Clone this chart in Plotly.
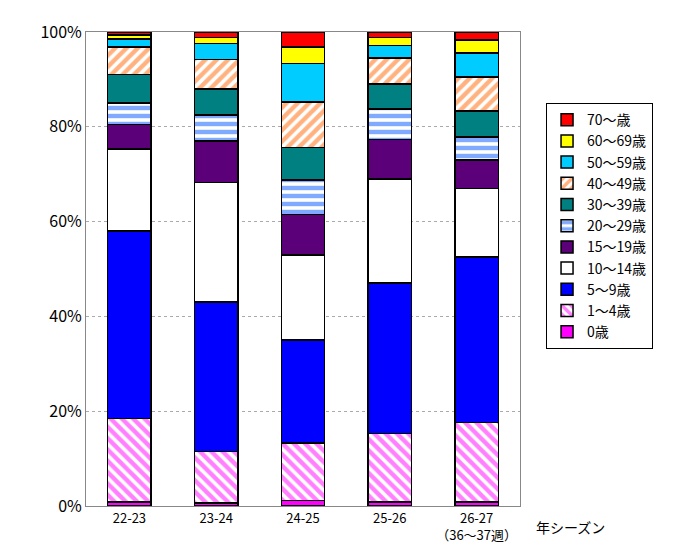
import plotly.graph_objects as go
import numpy as np

seasons = ["22-23", "23-24", "24-25", "25-26", "26-27<br>（36～37週）"]
groups = ["0歳", "1～4歳", "5～9歳", "10～14歳", "15～19歳", "20～29歳", "30～39歳", "40～49歳", "50～59歳", "60～69歳", "70～歳"]
cum = {
    "22-23": [0.8, 18.5, 58.0, 75.3, 80.5, 85.0, 91.0, 96.8, 98.5, 99.4, 100],
    "23-24": [0.6, 11.5, 43.0, 68.3, 77.0, 82.5, 88.0, 94.2, 97.6, 98.8, 100],
    "24-25": [1.2, 13.3, 35.0, 53.0, 61.5, 68.8, 75.6, 85.2, 93.4, 96.8, 100],
    "25-26": [0.8, 15.3, 47.0, 69.0, 77.3, 83.8, 89.0, 94.5, 97.2, 98.8, 100],
    "26-27": [0.8, 17.6, 52.5, 67.0, 73.0, 77.8, 83.3, 90.5, 95.6, 98.3, 100],
}
colors = ["#FF00FF", "#FF00FF", "#0000FF", "#FFFFFF", "#5C007A", "#0055FF", "#008080", "#FF6600", "#00CCFF", "#FFFF00", "#FF0000"]
patterns = ["", "\\", "", "", "", "-", "", "/", "", "", ""]

keys = list(cum.keys())
vals = np.array([np.diff([0] + cum[k]) for k in keys]).T

fig = go.Figure()
for i, g in enumerate(groups):
    if patterns[i]:
        marker = dict(color="white", line=dict(color="black", width=1.5),
                      pattern=dict(shape=patterns[i], fgcolor=colors[i], bgcolor="white", size=8, solidity=0.55, fillmode="overlay"))
    else:
        marker = dict(color=colors[i], line=dict(color="black", width=1.5))
    fig.add_trace(go.Bar(x=seasons, y=vals[i], name=g, marker=marker, width=0.5))

fig.update_layout(
    barmode="stack", width=700, height=560, plot_bgcolor="white", paper_bgcolor="white",
    margin=dict(l=78, r=188, t=24, b=62),
    font=dict(family="Noto Sans CJK JP, sans-serif", size=14, color="black"),
    legend=dict(traceorder="reversed", x=1.06, y=0.85, yanchor="top", bordercolor="black", borderwidth=1,
                font=dict(size=14), tracegroupgap=0),
    yaxis=dict(range=[0, 100], dtick=20, ticksuffix="%", showgrid=True, gridcolor="#AAAAAA", griddash="dot",
               showline=True, linecolor="#888", mirror=True, tickfont=dict(size=16)),
    xaxis=dict(showline=True, linecolor="#888", mirror=True, tickfont=dict(size=13)),
    bargap=0.5,
)
fig.add_annotation(text="年シーズン", x=1.0, xref="paper", xanchor="left", y=-0.02, yref="paper", yanchor="top",
                   showarrow=False, font=dict(size=14), xshift=14)
fig.write_html("out.html")
